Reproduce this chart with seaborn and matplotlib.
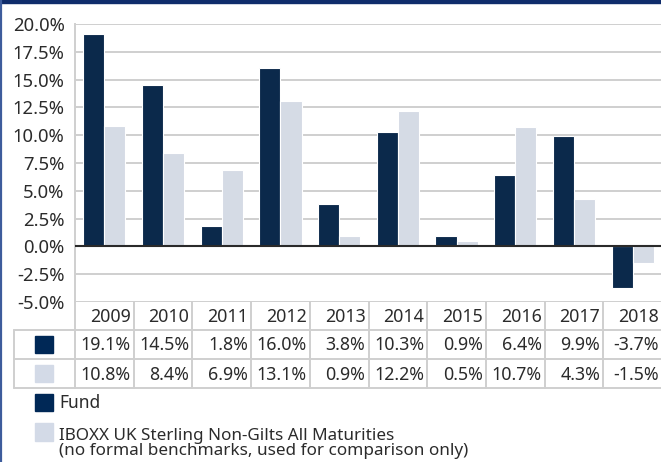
import matplotlib
matplotlib.use("Agg")
import matplotlib.pyplot as plt
from matplotlib.patches import Rectangle
import pandas as pd
import seaborn as sns

years = ["2009", "2010", "2011", "2012", "2013", "2014", "2015", "2016", "2017", "2018"]
fund = [19.1, 14.5, 1.8, 16.0, 3.8, 10.3, 0.9, 6.4, 9.9, -3.7]
bench = [10.8, 8.4, 6.9, 13.1, 0.9, 12.2, 0.5, 10.7, 4.3, -1.5]
series_names = ["Fund", "IBOXX UK Sterling Non-Gilts All Maturities\n(no formal benchmarks, used for comparison only)"]
y_ticks = [-5.0, -2.5, 0.0, 2.5, 5.0, 7.5, 10.0, 12.5, 15.0, 17.5, 20.0]

NAVY = "#002856"
LIGHT = "#d3dae7"
GRID = "#cfcfcf"
BORDER = "#0f2c6b"

sns.set_theme(style="white")
plt.rcParams["font.family"] = ["Noto Sans", "DejaVu Sans"]
plt.rcParams["text.color"] = "#2b2b2b"
plt.rcParams["ytick.color"] = "#2b2b2b"

W, H = 661, 462
fig = plt.figure(figsize=(W / 100, H / 100), dpi=100)

# main chart area (pixel layout)
left, right, top, bottom = 75, 662, 24, 302
ax = fig.add_axes([left / W, 1 - bottom / H, (right - left) / W, (bottom - top) / H])

df = pd.DataFrame({
    "year": years * 2,
    "value": fund + bench,
    "series": ["Fund"] * len(years) + ["Bench"] * len(years),
})
sns.barplot(data=df, x="year", y="value", hue="series", palette=[NAVY, LIGHT],
            width=0.72, edgecolor="white", linewidth=0.8, errorbar=None,
            legend=False, ax=ax, zorder=3)

ax.set_xlim(-0.5, len(years) - 0.5)
ax.set_ylim(-5, 20)
ax.set_yticks(y_ticks)
ax.set_yticklabels([f"{t:.1f}%" for t in y_ticks], fontsize=13.3)
ax.tick_params(axis="y", length=0, pad=7.5)
ax.set_xticks([])
ax.set_xlabel("")
ax.set_ylabel("")
ax.grid(axis="y", color=GRID, linewidth=1.4, zorder=0)
ax.set_axisbelow(True)
ax.axhline(0, color="#2a2a2a", linewidth=1.5, zorder=4)
for s in ["top", "right", "bottom"]:
    ax.spines[s].set_visible(False)
ax.spines["left"].set_color(GRID)
ax.spines["left"].set_linewidth(1.4)

# overlay in pixel coordinates for the data table, legend and frame
ov = fig.add_axes([0, 0, 1, 1])
ov.set_xlim(0, W)
ov.set_ylim(H, 0)
ov.axis("off")

col_w = (right - left) / len(years)
row_y = [302, 330, 359, 388]
label_x0 = 14

# table grid
for i in range(len(years) + 1):
    x = left + i * col_w
    ov.plot([x, x], [row_y[0], row_y[-1]], color=GRID, lw=1.4)
for y in row_y[1:]:
    ov.plot([label_x0, W], [y, y], color=GRID, lw=1.4)
ov.plot([label_x0, label_x0], [row_y[1], row_y[-1]], color=GRID, lw=1.4)

fs = 12.8
for i, yr in enumerate(years):
    xr = left + (i + 1) * col_w - 3
    ov.text(xr, (row_y[0] + row_y[1]) / 2 + 1, yr, ha="right", va="center", fontsize=fs)
    ov.text(xr, (row_y[1] + row_y[2]) / 2 + 1, f"{fund[i]:.1f}%", ha="right", va="center", fontsize=fs)
    ov.text(xr, (row_y[2] + row_y[3]) / 2 + 1, f"{bench[i]:.1f}%", ha="right", va="center", fontsize=fs)

# swatches in the table rows
ov.add_patch(Rectangle((35, 336), 18, 17, color=NAVY))
ov.add_patch(Rectangle((35, 365), 18, 17, color=LIGHT))

# legend below the table
ov.add_patch(Rectangle((35, 394), 18, 17, color=NAVY))
ov.text(59, 403, series_names[0], ha="left", va="center", fontsize=12.5)
ov.add_patch(Rectangle((35, 423), 18, 18, color=LIGHT))
ov.text(59, 443.5, series_names[1], ha="left", va="center", fontsize=12.3, linespacing=0.98)

# outer frame: navy band on top, thin blue line on the left
ov.add_patch(Rectangle((0, 0), W, 3, color=BORDER))
ov.plot([0.8, 0.8], [0, H], color="#3d5c9c", lw=1.6)

fig.savefig("out.png", dpi=100)
